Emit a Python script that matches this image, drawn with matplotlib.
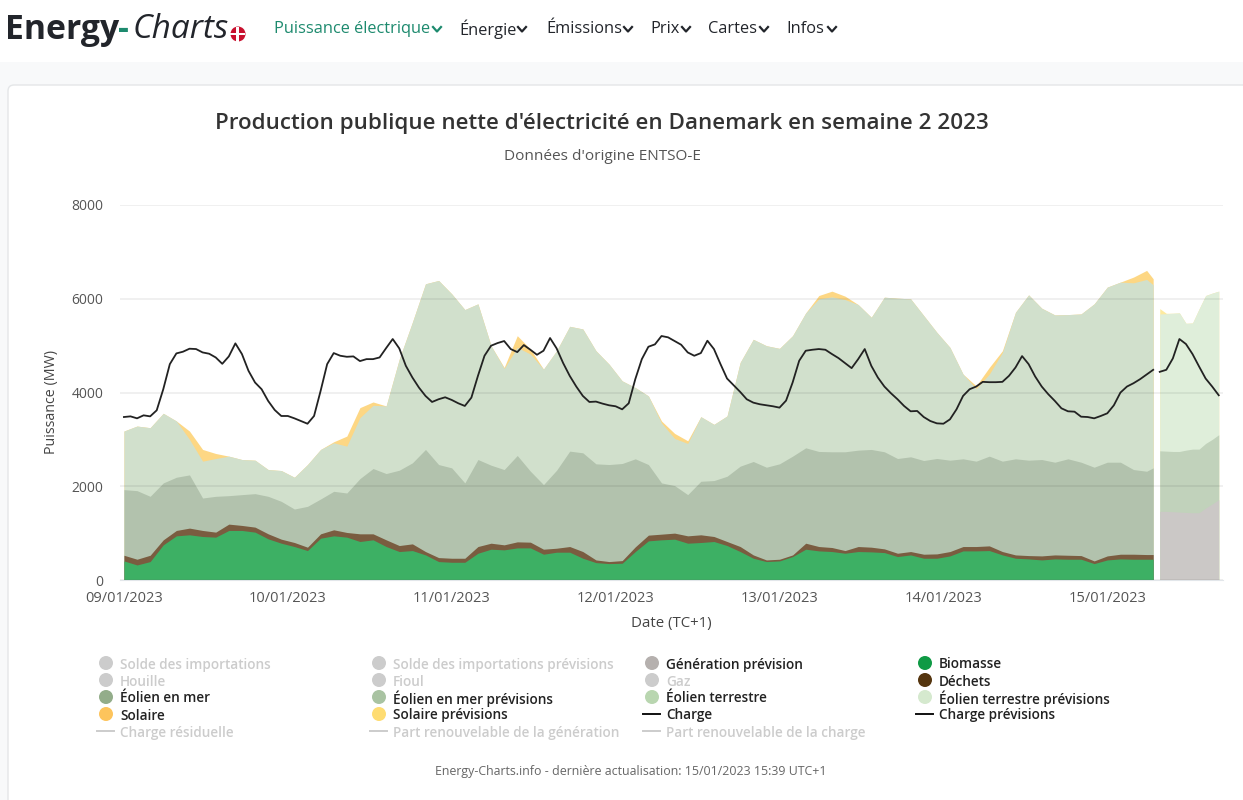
import numpy as np
import matplotlib

# No display here either
matplotlib.use('Agg')

# Import pyplot as plt for ease of use
import matplotlib.pyplot as plt
from matplotlib.patches import Circle, FancyBboxPatch, Rectangle

plt.rcParams['font.family'] = ['Open Sans', 'DejaVu Sans']

# Tops of the stacked areas in MW, read every second step from the picture.
biomass_top = [407, 321, 393, 750, 942, 964, 928, 914, 1057, 1057, 1021, 878, 785, 714, 628, 892, 942, 914, 821, 857, 714, 607, 628, 535, 393, 378, 378, 571, 657,
  643, 685, 685, 550, 593, 593, 464, 371, 350, 357, 607, 835, 857, 871, 785, 800, 821, 735, 607, 464, 393, 407, 500, 657, 621, 607, 571, 607,
  600, 585, 500, 535, 464, 464, 514, 621, 621, 628, 535, 464, 450, 428, 450, 443, 443, 350, 428, 450, 443, 443, 443]
waste_top = [528, 443, 528, 857, 1057, 1107, 1057, 1021, 1192, 1164, 1128, 985, 871, 800, 700, 985, 1071, 1014, 985, 985, 857, 735, 771, 607, 478, 464, 464, 714, 785,
  750, 814, 807, 657, 678, 714, 607, 428, 393, 414, 707, 957, 978, 1000, 942, 964, 928, 821, 714, 535, 428, 443, 535, 785, 714, 693, 628, 714,
  700, 664, 571, 607, 550, 557, 607, 714, 714, 728, 607, 535, 521, 514, 535, 528, 521, 407, 514, 550, 550, 543, 543]
offshore_top = [1928, 1906, 1785, 2071, 2192, 2242, 1749, 1785, 1799, 1821, 1842, 1785, 1678, 1514, 1571, 1728, 1892, 1856, 2163, 2378, 2271, 2342, 2499, 2785, 2463, 2392, 2071, 2570, 2449,
  2356, 2656, 2321, 2035, 2342, 2749, 2713, 2478, 2463, 2485, 2585, 2463, 2071, 2014, 1821, 2106, 2121, 2213, 2428, 2528, 2406, 2478, 2642, 2820, 2742, 2735, 2735, 2770,
  2785, 2735, 2592, 2628, 2549, 2592, 2556, 2585, 2535, 2642, 2535, 2585, 2556, 2570, 2513, 2585, 2513, 2406, 2513, 2513, 2356, 2320, 2392]
onshore_top = [3177, 3284, 3249, 3556, 3392, 2999, 2535, 2592, 2642, 2570, 2556, 2356, 2335, 2192, 2463, 2785, 2927, 2856, 3463, 3727, 3713, 4712, 5498, 6319, 6390, 6105, 5769, 5891, 4998,
  4513, 4962, 4820, 4498, 4891, 5412, 5355, 4891, 4605, 4248, 4105, 3927, 3349, 3020, 2913, 3484, 3320, 3499, 4641, 5134, 4998, 4941, 5212, 5698, 5998, 6040, 5983, 5876,
  5605, 6033, 6012, 5998, 5641, 5284, 4962, 4391, 4084, 4391, 4855, 5712, 6083, 5798, 5655, 5662, 5676, 5891, 6248, 6355, 6340, 6412, 6298]
solar_top = [3177, 3284, 3249, 3556, 3392, 3177, 2785, 2699, 2642, 2570, 2556, 2356, 2335, 2192, 2463, 2785, 2949, 3070, 3677, 3798, 3713, 4712, 5498, 6319, 6390, 6105, 5769, 5891, 4998,
  4534, 5212, 4927, 4498, 4891, 5412, 5355, 4891, 4605, 4248, 4105, 3927, 3392, 3127, 2970, 3484, 3320, 3499, 4641, 5134, 4998, 4941, 5212, 5698, 6069, 6162, 6055, 5876,
  5605, 6033, 6012, 5998, 5641, 5284, 4962, 4391, 4141, 4534, 4891, 5712, 6083, 5798, 5655, 5662, 5676, 5891, 6248, 6355, 6462, 6605, 6426]

# The load was readable at every step.
load = [3477, 3491, 3449, 3513, 3491, 3620, 4070, 4605, 4834, 4870, 4934, 4927, 4855, 4827, 4748, 4612, 4770, 5048, 4820, 4463,
  4213, 4070, 3820, 3627, 3499, 3499, 3449, 3392, 3334, 3499, 4034, 4605, 4841, 4784, 4762, 4770, 4670, 4712, 4712, 4748,
  4948, 5141, 4941, 4570, 4320, 4105, 3927, 3798, 3856, 3898, 3841, 3770, 3713, 3891, 4355, 4784, 4998, 5055, 5098, 4927,
  4862, 5012, 4912, 4805, 4891, 5162, 4941, 4627, 4355, 4127, 3927, 3798, 3806, 3763, 3727, 3706, 3641, 3770, 4284, 4712,
  4976, 5027, 5205, 5177, 5098, 5019, 4855, 4784, 4841, 5105, 4927, 4605, 4298, 4155, 4013, 3856, 3784, 3749, 3727, 3706,
  3677, 3827, 4213, 4677, 4891, 4912, 4927, 4912, 4820, 4734, 4627, 4520, 4712, 4927, 4570, 4320, 4127, 3984, 3856, 3713,
  3599, 3606, 3477, 3392, 3342, 3334, 3427, 3641, 3927, 4070, 4127, 4227, 4220, 4220, 4227, 4355, 4534, 4777, 4605, 4341,
  4127, 3963, 3820, 3663, 3599, 3591, 3484, 3477, 3449, 3499, 3556, 3727, 3998, 4127, 4198, 4284, 4384, 4484]

# Forecast part after the white gap, same unit.
gen_forecast_top = [1464, 1464, 1457, 1449, 1442, 1435, 1435, 1535, 1621, 1714]
offshore_forecast_top = [2756, 2749, 2742, 2742, 2770, 2792, 2792, 2913, 2999, 3099]
onshore_forecast_top = [5676, 5680, 5691, 5698, 5476, 5483, 5783, 6069, 6119, 6162]
solar_forecast_top = [5790, 5690, 5691, 5698, 5476, 5483, 5783, 6069, 6119, 6162]
load_forecast = [4441, 4484, 4727, 5141, 5034, 4820, 4555, 4298, 4127, 3941]

x_stack = np.append(np.arange(0, 157, 2), 157)
x_load = np.arange(158)
x_forecast = np.arange(158, 168)

tick_steps = [0, 25, 50, 75, 100, 125, 150]
tick_labels = ['09/01/2023', '10/01/2023', '11/01/2023', '12/01/2023', '13/01/2023', '14/01/2023', '15/01/2023']
y_ticks = [0, 2000, 4000, 6000, 8000]

# Legend entries, column by column as they appear on the page.
legend_labels = ['Solde des importations', 'Solde des importations prévisions', 'Génération prévision', 'Biomasse',
  'Houille', 'Fioul', 'Gaz', 'Déchets',
  'Éolien en mer', 'Éolien en mer prévisions', 'Éolien terrestre', 'Éolien terrestre prévisions',
  'Solaire', 'Solaire prévisions', 'Charge', 'Charge prévisions',
  'Charge résiduelle', 'Part renouvelable de la génération', 'Part renouvelable de la charge']
legend_colors = ['#cccccc', '#cccccc', '#b5b0ae', '#0f9a45',
  '#cccccc', '#cccccc', '#cccccc', '#55350f',
  '#93ad8a', '#a9c3a2', '#b9d6b0', '#d5e9ce',
  '#fdc45c', '#fedc72', '#111111', '#111111',
  '#cccccc', '#cccccc', '#cccccc']
legend_active = [False, False, True, True,
  False, False, False, True,
  True, True, True, True,
  True, True, True, True,
  False, False, False]
legend_is_line = [False] * 14 + [True] * 5

nav_labels = ['Puissance électrique', 'Énergie', 'Émissions', 'Prix', 'Cartes', 'Infos']
nav_x = [274, 459, 546, 650, 708, 786]
nav_chevron_x = [437, 522, 628, 686, 764, 832]

# One big axes in page pixels for everything around the chart.
fig = plt.figure(dpi=100, figsize=(12.43, 8.0), facecolor='white')
page = plt.axes([0, 0, 1, 1])
page.set_xlim(0, 1243)
page.set_ylim(800, 0)
page.axis('off')

page.add_patch(Rectangle((0, 62), 1243, 738, color='#f8f9fa', lw=0))
page.add_patch(FancyBboxPatch((8, 85), 1300, 800, boxstyle='round,pad=0,rounding_size=6', fc='white', ec='#e4e6e8', lw=1))

# Logo and menu
page.text(5, 30, 'Energy', fontsize=24.3, fontweight='bold', color='#22252b', va='center')
page.text(118.5, 30, '-', fontsize=24.3, fontweight='bold', color='#1d8a6e', va='center')
page.text(133, 30, 'Charts', fontsize=24, style='italic', color='#22252b', va='center')
page.add_patch(Circle((238, 34), 7.5, color='#c8102e', lw=0))
page.add_patch(Rectangle((230.5, 32.5), 15, 2.6, color='white', lw=0))
page.add_patch(Rectangle((236, 26.5), 2.6, 15, color='white', lw=0))

for label, x, chevron in zip(nav_labels, nav_x, nav_chevron_x):
  color = '#1d8a6e' if x == 274 else '#22252b'
  page.text(x, 29, label, fontsize=11.8, color=color, va='center')
  page.plot([chevron - 4, chevron, chevron + 4], [27, 31.5, 27], color=color, lw=1.6)

page.text(602, 123, "Production publique nette d'électricité en Danemark en semaine 2 2023",
  fontsize=16.1, fontweight='semibold', color='#333333', ha='center', va='center')
page.text(602, 157, "Données d'origine ENTSO-E", fontsize=11.1, color='#555555', ha='center', va='center')
page.text(52, 402, 'Puissance (MW)', fontsize=10.3, color='#444444', rotation=90, ha='center', va='center')
page.text(671, 623, 'Date (TC+1)', fontsize=10.8, color='#444444', ha='center', va='center')
page.text(631, 772, 'Energy-Charts.info - dernière actualisation: 15/01/2023 15:39 UTC+1',
  fontsize=8.9, fontweight='medium', color='#666666', ha='center', va='center')

# Legend rows and columns
for n, label in enumerate(legend_labels):
  row_y = [663, 680, 697, 714, 731][n // 4]
  col = n % 4
  text_color = '#222222' if legend_active[n] else '#cccccc'
  page.text(120 + col * 273, row_y + 1.5, label, fontsize=9.85, fontweight='semibold', color=text_color, va='center')
  if legend_is_line[n]:
    page.plot([97 + col * 273, 114 + col * 273], [row_y, row_y], color=legend_colors[n], lw=1.4)
  else:
    page.add_patch(Circle((106 + col * 273, row_y), 7, color=legend_colors[n], lw=0))

# The chart itself, on top of the page
ax = plt.axes([120 / 1243, 220 / 800, 1103 / 1243, 375 / 800])
ax.patch.set_alpha(0)
ax.set_xlim(-0.6, 167.65)
ax.set_ylim(0, 8000)

plt.fill_between(x_stack, 0, solar_top, color='#fdd784', lw=0, zorder=1)
plt.fill_between(x_stack, 0, onshore_top, color='#d1e0cc', lw=0, zorder=1.1)
plt.fill_between(x_stack, 0, offshore_top, color='#b2c2ad', lw=0, zorder=1.2)
plt.fill_between(x_stack, 0, waste_top, color='#7a5c40', lw=0, zorder=1.3)
plt.fill_between(x_stack, 0, biomass_top, color='#3db064', lw=0, zorder=1.4)

plt.fill_between(x_forecast, 0, solar_forecast_top, color='#fdeaa0', lw=0, zorder=1)
plt.fill_between(x_forecast, 0, onshore_forecast_top, color='#dfeeda', lw=0, zorder=1.1)
plt.fill_between(x_forecast, 0, offshore_forecast_top, color='#c1d2bb', lw=0, zorder=1.2)
plt.fill_between(x_forecast, 0, gen_forecast_top, color='#cbc8c6', lw=0, zorder=1.3)

plt.plot(x_load, load, color='#222222', lw=1.3, zorder=3)
plt.plot(x_forecast, load_forecast, color='#222222', lw=1.3, zorder=3)

# Grid shows faintly through the areas
plt.grid(axis='y', color='#000000', alpha=0.07, lw=1.2, zorder=2)
ax.set_axisbelow(False)
plt.xticks(tick_steps, tick_labels, fontsize=10.5, color='#555555')
plt.yticks(y_ticks, [str(v) for v in y_ticks], fontsize=10, color='#555555')
ax.tick_params(length=0, axis='both')
ax.tick_params(axis='x', pad=8)
ax.tick_params(axis='y', pad=12)
for side in ['top', 'right', 'left']:
  ax.spines[side].set_visible(False)
ax.spines['bottom'].set_color('#e2e6ea')

# Save our graph as an image in the current directory.
fig.savefig('out.png')
